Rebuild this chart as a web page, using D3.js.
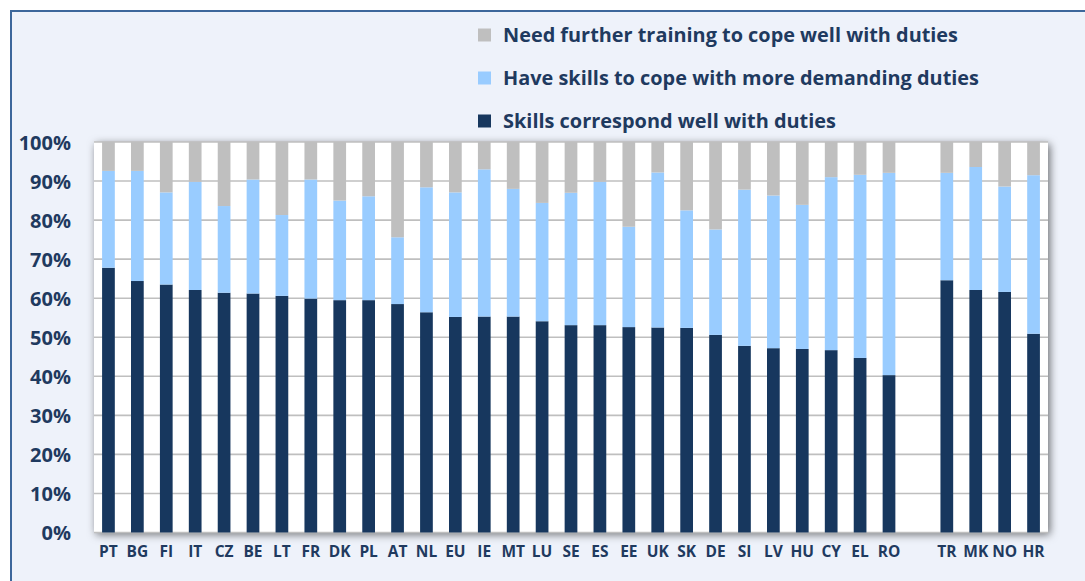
<!DOCTYPE html>
<html>
<head>
<meta charset="utf-8">
<script src="https://cdn.jsdelivr.net/npm/d3@7.9.0/dist/d3.min.js"></script>
<style>
  html, body { margin: 0; padding: 0; background: #fff; }
  svg { display: block; }
  text { font-family: "Open Sans", sans-serif; font-weight: 700; fill: #1f3a5f; }
</style>
</head>
<body>
<div id="chart"></div>
<script>
// countries, left group (sorted) and right group after the gap
const groupA = ["PT", "BG", "FI", "IT", "CZ", "BE", "LT", "FR", "DK", "PL", "AT", "NL", "EU", "IE",
  "MT", "LU", "SE", "ES", "EE", "UK", "SK", "DE", "SI", "LV", "HU", "CY", "EL", "RO"];
const groupB = ["TR", "MK", "NO", "HR"];
const countries = groupA.concat(groupB);

// % of workers
const skillsWell = [67.8, 64.4, 63.5, 62.1, 61.4, 61.2, 60.6, 59.9, 59.5, 59.5, 58.5, 56.4, 55.2, 55.3,
  55.3, 54.1, 53.1, 53.1, 52.6, 52.5, 52.4, 50.6, 47.8, 47.2, 47.0, 46.7, 44.7, 40.3,
  64.6, 62.1, 61.6, 50.9];
const moreDemanding = [24.8, 28.2, 23.6, 27.7, 22.2, 29.2, 20.7, 30.5, 25.5, 26.6, 17.1, 32.0, 31.9, 37.7,
  32.7, 30.3, 33.9, 36.7, 25.7, 39.7, 30.1, 27.0, 40.0, 39.1, 36.9, 44.3, 46.9, 51.8,
  27.5, 31.5, 27.0, 40.6];
const furtherTraining = [7.4, 7.4, 12.9, 10.2, 16.4, 9.6, 18.7, 9.6, 15.0, 13.9, 24.4, 11.6, 12.9, 7.0,
  12.0, 15.6, 13.0, 10.2, 21.7, 7.8, 17.5, 22.4, 12.2, 13.7, 16.1, 9.0, 8.4, 7.9,
  7.9, 6.4, 11.4, 8.5];

const seriesLabels = {
  well: "Skills correspond well with duties",
  demanding: "Have skills to cope with more demanding duties",
  training: "Need further training to cope well with duties"
};
const colors = { well: "#17375e", demanding: "#99ccff", training: "#bfbfbf" };
const yTicks = [0, 10, 20, 30, 40, 50, 60, 70, 80, 90, 100];

const W = 1085, H = 581;
const svg = d3.select("#chart").append("svg").attr("width", W).attr("height", H);

const defs = svg.append("defs");
const shadow = defs.append("filter").attr("id", "shadow")
  .attr("x", "-5%").attr("y", "-5%").attr("width", "110%").attr("height", "115%");
shadow.append("feDropShadow")
  .attr("dx", 2).attr("dy", 2).attr("stdDeviation", 4)
  .attr("flood-color", "#000").attr("flood-opacity", 0.55);

// outer frame
svg.append("rect")
  .attr("x", 11).attr("y", 11).attr("width", W + 20).attr("height", H + 20)
  .attr("fill", "#eef2fa").attr("stroke", "#3d679b").attr("stroke-width", 2);

const plot = { left: 94, right: 1048, top: 142, bottom: 532.5 };

const x = d3.scaleBand()
  .domain(groupA.concat(["gap"], groupB))
  .range([plot.left, plot.right])
  .paddingInner(0.56)
  .paddingOuter(0.28);

const y = d3.scaleLinear().domain([0, 100]).range([plot.bottom, plot.top]);

// plot background with shadow
svg.append("rect")
  .attr("x", plot.left).attr("y", plot.top)
  .attr("width", plot.right - plot.left).attr("height", plot.bottom - plot.top)
  .attr("fill", "#fff")
  .attr("filter", "url(#shadow)");

// gridlines
svg.append("g")
  .selectAll("line")
  .data(yTicks)
  .join("line")
  .attr("x1", plot.left).attr("x2", plot.right)
  .attr("y1", (d) => y(d)).attr("y2", (d) => y(d))
  .attr("stroke", "#bfbfbf").attr("stroke-width", 1.6);

// stacked bars
const rows = countries.map((c, i) => ({
  country: c,
  well: skillsWell[i],
  demanding: moreDemanding[i],
  training: furtherTraining[i]
}));
const keys = ["well", "demanding", "training"];
const stacked = d3.stack().keys(keys)(rows);

svg.append("g")
  .selectAll("g")
  .data(stacked)
  .join("g")
  .attr("fill", (d) => colors[d.key])
  .selectAll("rect")
  .data((d) => d)
  .join("rect")
  .attr("x", (d) => x(d.data.country))
  .attr("width", x.bandwidth())
  .attr("y", (d) => y(Math.min(d[1], 100)))
  .attr("height", (d) => y(d[0]) - y(Math.min(d[1], 100)));

// y axis labels
const yAxis = svg.append("g")
  .attr("transform", `translate(${plot.left - 23},0)`)
  .call(d3.axisLeft(y).tickValues(yTicks).tickFormat((d) => d + "%").tickSize(0).tickPadding(0));
yAxis.select(".domain").remove();
yAxis.selectAll("text")
  .style("font-size", "20px")
  .style("fill", "#1f3a5f")
  .attr("dy", "0.35em");

// x axis labels
const xAxis = svg.append("g")
  .attr("transform", `translate(0,${plot.bottom})`)
  .call(d3.axisBottom(x).tickFormat((d) => (d === "gap" ? "" : d)).tickSize(0).tickPadding(13));
xAxis.select(".domain").remove();
xAxis.selectAll("text")
  .style("font-size", "15.5px")
  .style("fill", "#1f3a5f")
  .attr("dy", "0.71em");

// legend
const legendKeys = ["training", "demanding", "well"];
const legend = svg.append("g")
  .selectAll("g")
  .data(legendKeys)
  .join("g")
  .attr("transform", (d, i) => `translate(478,${28.5 + i * 43})`);

legend.append("rect")
  .attr("width", 13).attr("height", 13)
  .attr("fill", (d) => colors[d]);

const legendWidths = { training: 455, demanding: 476, well: 333 };
legend.append("text")
  .attr("x", 25)
  .attr("y", 13)
  .style("font-size", "20px")
  .text((d) => seriesLabels[d])
  .attr("textLength", (d) => legendWidths[d])
  .attr("lengthAdjust", "spacingAndGlyphs");
</script>
</body>
</html>
